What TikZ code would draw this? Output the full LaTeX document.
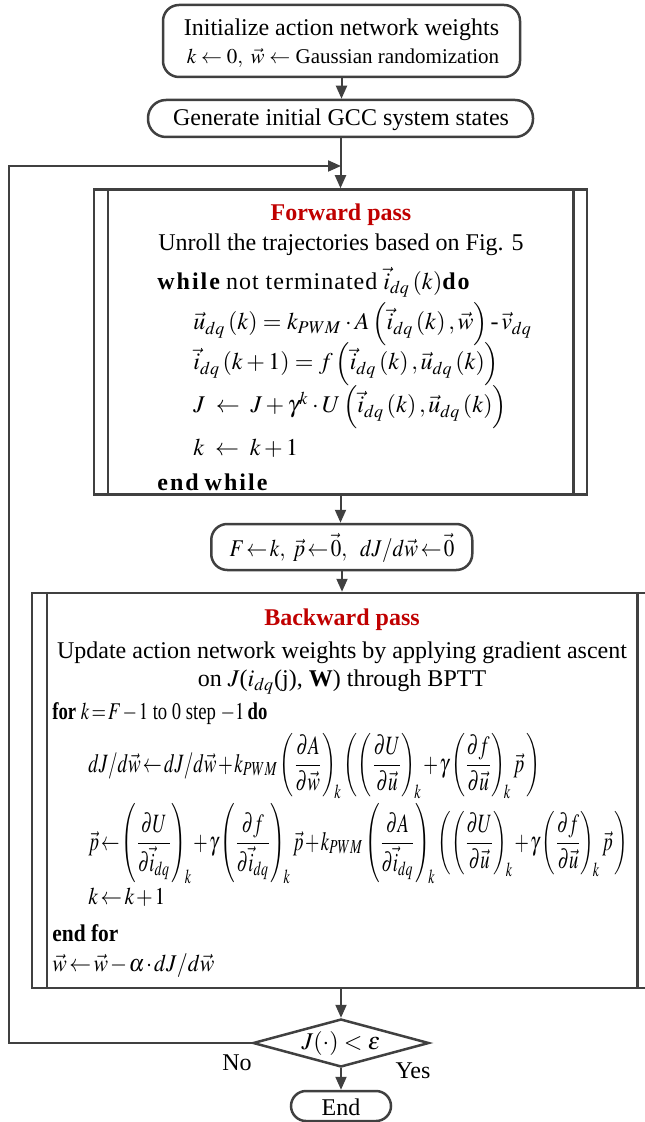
\documentclass[tikz,border=0pt]{standalone}
\usepackage{amsmath}
\usepackage{graphicx}
\usepackage{mathptmx}
\usepackage{fontspec}
\setmainfont{Liberation Serif}
\usetikzlibrary{shapes.geometric,arrows.meta}
\definecolor{lineclr}{HTML}{404040}
\definecolor{titlered}{HTML}{C00000}
\newcommand{\tightmath}{\thickmuskip=2mu\relax\medmuskip=1.5mu\relax\thinmuskip=2mu\relax}
\tikzset{
  boxline/.style={draw=lineclr, line width=1.25pt},
  roundbox/.style={boxline, rounded corners=#1, inner sep=0pt},
  procbox/.style={boxline, rectangle, inner sep=0pt},
  decbox/.style={boxline, diamond, aspect=3.6, inner sep=0pt},
  conn/.style={draw=lineclr, line width=1pt, -{Triangle[length=6.5pt,width=5.5pt]}},
  body/.style={font=\fontsize{12}{14}\selectfont, inner sep=0pt},
  title/.style={font=\fontsize{12}{14}\selectfont\bfseries, text=titlered, inner sep=0pt},
}
\begin{document}
\begin{tikzpicture}[x=0.5pt,y=-0.5pt]
\useasboundingbox (0,0) rectangle (644,1122);

% boxes
\node[roundbox=8pt, minimum width=178.5pt, minimum height=36pt] (init) at (341.5,41) {};
\node[body] (initA) at (341.5,30) {Initialize action network weights};
\node[body, font=\fontsize{10.5}{12}\selectfont] (initB) at (343,58) {$k \leftarrow 0,\ \vec{w} \leftarrow$ Gaussian randomization};

\node[roundbox=9pt, minimum width=192.5pt, minimum height=18.5pt] (gen) at (340.5,118.5) {};
\node[body] (genT) at (341,120) {Generate initial GCC system states};

\node[procbox, minimum width=246.5pt, minimum height=152.5pt] (fwd) at (340.5,342) {};
\draw[boxline] ([xshift=7.5pt]fwd.north west) -- ([xshift=7.5pt]fwd.south west);
\draw[boxline] ([xshift=-7.5pt]fwd.north east) -- ([xshift=-7.5pt]fwd.south east);

\node[title] (ftitle) at (341,215) {Forward pass};
\node[body] (f1) at (341,245) {Unroll the trajectories based on Fig. 5};
\node[body, anchor=west] (f2) at (157,282) {\textbf{w\kern1pt h\kern1pt i\kern1pt l\kern1pt e} n\kern.5pt o\kern.5pt t\kern.5pt\ t\kern.5pt e\kern.5pt r\kern.5pt m\kern.5pt i\kern.5pt n\kern.5pt a\kern.5pt t\kern.5pt e\kern.5pt d $\vec{i}_{dq}\left(k\right)$\textbf{d\kern1pt o}};
\node[body, anchor=west] (f3) at (193,324) {$\vec{u}_{dq}\left(k\right) = k_{PWM}\cdot A\left(\vec{i}_{dq}\left(k\right),\vec{w}\right) \text{-}\, \vec{v}_{dq}$};
\node[body, anchor=west] (f4) at (193,364) {$\vec{i}_{dq}\left(k+1\right) = f\left(\vec{i}_{dq}\left(k\right),\vec{u}_{dq}\left(k\right)\right)$};
\node[body, anchor=west] (f5) at (193,407) {$J \;\leftarrow\; J+\gamma^{k}\cdot U\left(\vec{i}_{dq}\left(k\right),\vec{u}_{dq}\left(k\right)\right)$};
\node[body, anchor=west] (f6) at (193,448) {$k \;\leftarrow\; k+1$};
\node[body, anchor=west] (f7) at (157,482) {\textbf{e\kern1pt n\kern1pt d\ w\kern1pt h\kern1pt i\kern1pt l\kern1pt e}};

\node[roundbox=8pt, minimum width=130.5pt, minimum height=23pt] (finit) at (341.75,547) {};
\node[body] (finitT) at (342,548) {\resizebox{112.5pt}{\height}{\tightmath$F \leftarrow k,\ \vec{p} \leftarrow \vec{0},\ \ dJ/d\vec{w} \leftarrow \vec{0}$}};

\node[procbox, minimum width=310pt, minimum height=197.5pt] (bwd) at (342,790.5) {};
\draw[boxline] ([xshift=8pt]bwd.north west) -- ([xshift=8pt]bwd.south west);
\draw[boxline] ([xshift=-8pt]bwd.north east) -- ([xshift=-8pt]bwd.south east);

\node[title] (btitle) at (342,620) {Backward pass};
\node[body] (b1) at (342,653) {Update action network weights by applying gradient ascent};
\node[body] (b2) at (342,682) {on $J$($i_{dq}$(j), \textbf{W}) through BPTT};
\node[body, anchor=west] (b3) at (52,714) {\resizebox{107.5pt}{\height}{\tightmath\textbf{for} $k=F-1$ to 0 step $-1$\,\textbf{do}}};
\node[body, anchor=west] (b4) at (88,766) {\resizebox{226pt}{1.1\height}{\tightmath$dJ/d\vec{w} \leftarrow dJ/d\vec{w} + k_{PWM}\left(\dfrac{\partial A}{\partial \vec{w}}\right)_{\!k}\left(\left(\dfrac{\partial U}{\partial \vec{u}}\right)_{\!k}+\gamma\left(\dfrac{\partial f}{\partial \vec{u}}\right)_{\!k}\vec{p}\,\right)$}};
\node[body, anchor=west] (b5) at (88,844) {\resizebox{270pt}{1.1\height}{\tightmath$\vec{p} \leftarrow \left(\dfrac{\partial U}{\partial \vec{i}_{dq}}\right)_{\!k}+\gamma\left(\dfrac{\partial f}{\partial \vec{i}_{dq}}\right)_{\!k}\vec{p}+k_{PWM}\left(\dfrac{\partial A}{\partial \vec{i}_{dq}}\right)_{\!k}\left(\left(\dfrac{\partial U}{\partial \vec{u}}\right)_{\!k}+\gamma\left(\dfrac{\partial f}{\partial \vec{u}}\right)_{\!k}\vec{p}\,\right)$}};
\node[body, anchor=west] (b6) at (88,897) {\resizebox{38.5pt}{\height}{\tightmath$k \leftarrow k+1$}};
\node[body, anchor=west] (b7) at (52,933) {\resizebox{33pt}{\height}{\textbf{end for}}};
\node[body, anchor=west] (b8) at (52,966) {\resizebox{81pt}{\height}{\tightmath$\vec{w} \leftarrow \vec{w} - \alpha\cdot dJ/d\vec{w}$}};

\node[decbox, minimum width=88pt, minimum height=24pt] (dec) at (341,1043) {};
\node[body] (decT) at (341,1043) {$J(\cdot) < \varepsilon$};
\node[body] (no) at (237,1063) {No};
\node[body] (yes) at (413,1071) {Yes};

\node[roundbox=7.5pt, minimum width=50pt, minimum height=15pt] (endb) at (341,1106) {};
\node[body] (endT) at (341,1107) {End};

% connectors
\coordinate (merge) at (341,166);
\coordinate (loopBL) at (9,1043);
\coordinate (loopTL) at (9,166);
\draw[conn] (init.south) -- (gen.north -| init.south);
\draw[conn] (gen.south -| fwd.north) -- (fwd.north);
\draw[conn] (fwd.south) -- (finit.north -| fwd.south);
\draw[conn] (finit.south -| bwd.north) -- (bwd.north);
\draw[conn] (bwd.south -| dec.north) -- (dec.north);
\draw[conn] (dec.south) -- (endb.north);
\draw[conn] (dec.west) -- (loopBL) -- (loopTL) -- (merge);
\end{tikzpicture}
\end{document}
